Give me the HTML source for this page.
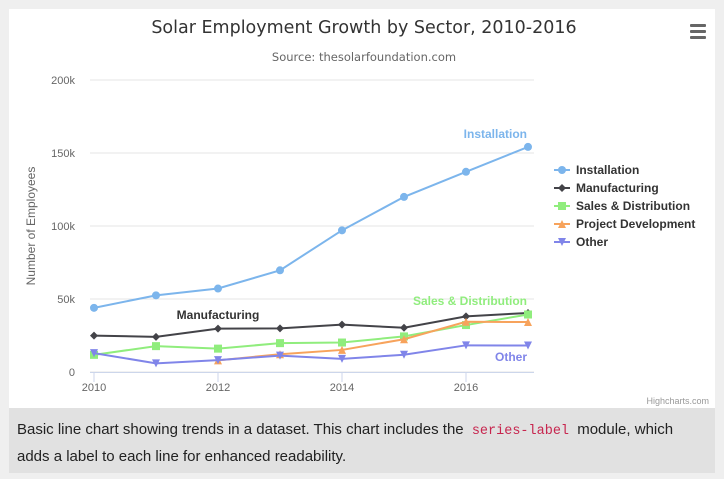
<!DOCTYPE html>
<html><head><meta charset="utf-8"><style>
body{margin:0;background:#efefef;width:724px;height:479px;overflow:hidden;font-family:"Liberation Sans",sans-serif}
#chart{position:absolute;left:9px;top:9px;width:706px;height:399px;background:#fff}
#cap{position:absolute;left:9px;top:408px;height:65px;background:#e1e1e1;padding:0 8px;color:#222;font-size:15px;line-height:25px;padding-top:9px;box-sizing:border-box;width:706px}
code{font-family:"Liberation Mono",monospace;color:#c7254e;font-size:13.5px;padding:0 4px}
</style></head><body>
<div id="chart">
<svg id="svg" width="706" height="399" viewBox="9 9 706 399"></svg>
</div>
<div id="cap">Basic line chart showing trends in a dataset. This chart includes the <code>series-label</code> module, which adds a label to each line for enhanced readability.</div>
<script>
const years=[2010,2011,2012,2013,2014,2015,2016,2017];
const installation=[43934,52503,57177,69658,97031,119931,137133,154175];
const manufacturing=[24916,24064,29742,29851,32490,30282,38121,40434];
const sales=[11744,17722,16005,19771,20185,24377,32147,39387];
const projectDev=[null,null,7988,12169,15112,22452,34400,34227];
const other=[12908,5948,8105,11248,8989,11816,18274,18111];
const yTicks=[0,50000,100000,150000,200000];
const yTickLabels=["0","50k","100k","150k","200k"];
const xTicks=[2010,2012,2014,2016];
const names=["Installation","Manufacturing","Sales & Distribution","Project Development","Other"];
const colors=["#7cb5ec","#434348","#90ed7d","#f7a35c","#8085e9"];
const series=[installation,manufacturing,sales,projectDev,other];
const symbols=["circle","diamond","square","triangle","triangle-down"];
const X=v=>94+(v-2010)*62;
const Y=v=>372-v/200000*292;
const svg=document.getElementById('svg');const NS='http://www.w3.org/2000/svg';
function mk(t,a,p){const e=document.createElementNS(NS,t);for(const k in a)e.setAttribute(k,a[k]);(p||svg).appendChild(e);return e;}
function tx(x,y,s,a){const e=mk('text',Object.assign({x:x,y:y},a));e.textContent=s;return e;}
let e;
e=tx(364,33,"Solar Employment Growth by Sector, 2010-2016",{'text-anchor':'middle','font-size':17.5,fill:'#333','font-family':'DejaVu Sans, sans-serif'});


e=tx(364,61,"Source: thesolarfoundation.com",{'text-anchor':'middle','font-size':11.5,fill:'#666','font-family':'DejaVu Sans, sans-serif'});


const menu=mk('g',{});


[24,30,36].forEach(y=>mk('rect',{x:690,y:y,width:16,height:3,rx:1,fill:'#666'},menu));
yTicks.forEach((v,i)=>{
 e=mk('line',{x1:90,x2:534,y1:Y(v),y2:Y(v),stroke:'#e6e6e6'});
 
 
 e=tx(75,Y(v)+4,yTickLabels[i],{'text-anchor':'end','font-size':11,fill:'#666'});
 
 
});
e=mk('line',{x1:90,x2:534,y1:372.5,y2:372.5,stroke:'#ccd6eb'});


xTicks.forEach(v=>{
 e=mk('line',{x1:X(v),x2:X(v),y1:372,y2:382,stroke:'#ccd6eb'});
 
 
 e=tx(X(v),391,String(v),{'text-anchor':'middle','font-size':11,fill:'#666'});
 
 
});
e=tx(0,0,"Number of Employees",{'text-anchor':'middle','font-size':12,fill:'#666',transform:'translate(35,226) rotate(-90)'});


function sym(t,x,y,c,p){
 if(t=='circle')return mk('circle',{cx:x,cy:y,r:4,fill:c},p);
 if(t=='diamond')return mk('path',{d:`M${x} ${y-4}L${x+4} ${y}L${x} ${y+4}L${x-4} ${y}Z`,fill:c},p);
 if(t=='square')return mk('rect',{x:x-4,y:y-4,width:8,height:8,fill:c},p);
 if(t=='triangle')return mk('path',{d:`M${x} ${y-4}L${x+4} ${y+4}L${x-4} ${y+4}Z`,fill:c},p);
 return mk('path',{d:`M${x-4} ${y-4}L${x+4} ${y-4}L${x} ${y+4}Z`,fill:c},p);
}
series.forEach((s,i)=>{
 const g=mk('g',{});
 
 
 let d='';s.forEach((v,j)=>{if(v==null)return;d+=(d?'L':'M')+X(years[j])+' '+Y(v);});
 mk('path',{d:d,fill:'none',stroke:colors[i],'stroke-width':2},g);
 s.forEach((v,j)=>{if(v==null)return;const m=sym(symbols[i],X(years[j]),Y(v),colors[i],g);
  
  });
 const lg=mk('g',{});
 
 
 const ly=170+i*18;
 mk('line',{x1:554,x2:570,y1:ly,y2:ly,stroke:colors[i],'stroke-width':2},lg);
 sym(symbols[i],562,ly,colors[i],lg);
 tx(576,ly+4,names[i],{'font-size':12,'font-weight':'bold',fill:'#333'},lg);
});
const labels=[[527,138,"Installation",0,'end'],[218,319,"Manufacturing",1,'middle'],[527,305,"Sales & Distribution",2,'end'],[527,361,"Other",4,'end']];
labels.forEach(l=>{e=tx(l[0],l[1],l[2],{'text-anchor':l[4],'font-size':12,'font-weight':'bold',fill:l[3]==1?'#333':colors[l[3]]});
 
 });
e=tx(709,404,"Highcharts.com",{'text-anchor':'end','font-size':9,fill:'#999'});


</script>
</body></html>
